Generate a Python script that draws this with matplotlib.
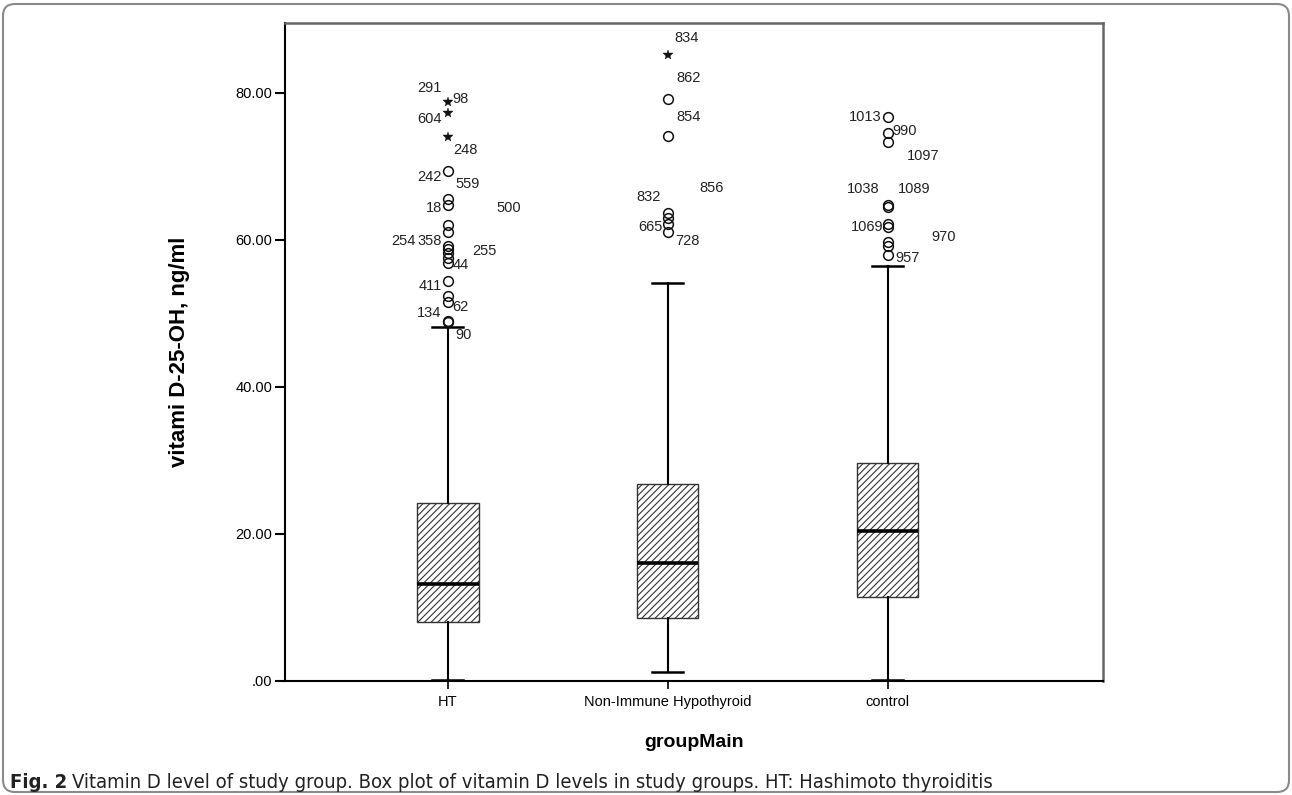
import numpy as np
import matplotlib
matplotlib.use("Agg")
import matplotlib.pyplot as plt
from matplotlib.patches import FancyBboxPatch
from matplotlib.transforms import IdentityTransform

plt.rcParams['font.family'] = ['Liberation Sans', 'DejaVu Sans']
plt.rcParams['hatch.linewidth'] = 0.8

groups = ['HT', 'Non-Immune Hypothyroid', 'control']

# box statistics
q1 = [8.0, 8.6, 11.4]
median = [13.2, 16.0, 20.4]
q3 = [24.2, 26.8, 29.6]
whisker_low = [0.2, 1.2, 0.2]
whisker_high = [48.1, 54.1, 56.5]

# outliers: value, marker kind ('o' circle, '*' extreme)
ht_out = [78.8, 77.3, 74.0, 69.4, 65.6, 64.8, 62.0, 61.1, 59.2, 58.7, 58.2,
          57.6, 56.9, 54.4, 52.4, 51.5, 49.0, 48.8]
ht_kind = ['*', '*', '*', 'o', 'o', 'o', 'o', 'o', 'o', 'o', 'o',
           'o', 'o', 'o', 'o', 'o', 'o', 'o']
nih_out = [85.2, 79.1, 74.1, 63.7, 63.0, 62.1, 61.1]
nih_kind = ['*', 'o', 'o', 'o', 'o', 'o', 'o']
ctl_out = [76.7, 74.5, 73.3, 64.8, 64.5, 62.2, 61.8, 59.7, 59.2, 58.0]
ctl_kind = ['o'] * 10

# case labels: (group index, anchor value, text)
case_labels = [
    (0, 78.8, '291'), (0, 78.8, '98'), (0, 77.3, '604'), (0, 74.0, '248'),
    (0, 69.4, '242'), (0, 69.4, '559'), (0, 64.8, '18'), (0, 65.6, '500'),
    (0, 59.2, '358'), (0, 58.7, '254'), (0, 58.2, '255'), (0, 56.9, '44'),
    (0, 54.4, '411'), (0, 52.4, '134'), (0, 51.5, '62'), (0, 48.9, '90'),
    (1, 85.2, '834'), (1, 79.1, '862'), (1, 74.1, '854'), (1, 63.7, '832'),
    (1, 63.7, '856'), (1, 61.6, '665'), (1, 61.1, '728'),
    (2, 76.7, '1013'), (2, 74.5, '990'), (2, 73.3, '1097'), (2, 64.6, '1038'),
    (2, 64.6, '1089'), (2, 62.2, '1069'), (2, 59.7, '970'), (2, 58.0, '957'),
]
# label offsets in pixels and alignment
label_offsets = [
    (-6, 14, 'right'), (5, 3, 'left'), (-6, -6, 'right'), (6, -13, 'left'),
    (-6, -6, 'right'), (8, -13, 'left'), (-6, -3, 'right'), (49, -9, 'left'),
    (-6, 5, 'right'), (-32, 8, 'right'), (25, 2, 'left'), (5, -2, 'left'),
    (-6, -5, 'right'), (-6, -17, 'right'), (5, -5, 'left'), (8, -14, 'left'),
    (7, 17, 'left'), (9, 21, 'left'), (9, 19, 'left'), (-7, 16, 'right'),
    (32, 25, 'left'), (-5, 1, 'right'), (8, -9, 'left'),
    (-6, 0, 'right'), (5, 2, 'left'), (19, -14, 'left'), (-8, 17, 'right'),
    (10, 17, 'left'), (-4, -3, 'right'), (44, 5, 'left'), (8, -3, 'left'),
]

yticks = [0, 20, 40, 60, 80]
ytick_labels = ['.00', '20.00', '40.00', '60.00', '80.00']

fig = plt.figure(figsize=(12.92, 7.95), dpi=100)
ax = fig.add_axes([285 / 1292, 1 - 681 / 795, 818 / 1292, 658 / 795])

stats = []
for i in range(3):
    stats.append(dict(med=median[i], q1=q1[i], q3=q3[i],
                      whislo=whisker_low[i], whishi=whisker_high[i], fliers=[]))

bp = ax.bxp(stats, positions=[1, 2, 3], widths=0.28, capwidths=0.14,
            showfliers=False, patch_artist=True,
            boxprops=dict(facecolor='white', edgecolor='#333333', linewidth=1.0, hatch='/////'),
            medianprops=dict(color='black', linewidth=2.6),
            whiskerprops=dict(color='black', linewidth=1.5),
            capprops=dict(color='black', linewidth=1.8))

for pos, vals, kinds in [(1, ht_out, ht_kind), (2, nih_out, nih_kind), (3, ctl_out, ctl_kind)]:
    vals = np.array(vals)
    kinds = np.array(kinds)
    circ = vals[kinds == 'o']
    star = vals[kinds == '*']
    ax.plot([pos] * len(circ), circ, 'o', markersize=7, markerfacecolor='none',
            markeredgecolor='#111111', markeredgewidth=1.1, clip_on=False)
    ax.plot([pos] * len(star), star, '*', markersize=7, color='#111111',
            markeredgewidth=0.3, clip_on=False)

for (g, v, txt), (dx, dy, ha) in zip(case_labels, label_offsets):
    ax.annotate(txt, (g + 1, v), xytext=(dx, dy), textcoords='offset pixels',
                ha=ha, va='center', fontsize=10.5, color='#222222')

ax.set_xlim(0.26, 3.98)
ax.set_ylim(0, 89.5)
ax.set_yticks(yticks)
ax.set_yticklabels(ytick_labels, fontsize=10.5)
ax.set_xticks([1, 2, 3])
ax.set_xticklabels(groups, fontsize=10.5)
ax.tick_params(axis='y', length=7, width=1.5, pad=2)
ax.tick_params(axis='x', length=6, width=1.2, pad=4)

for side in ['left', 'bottom']:
    ax.spines[side].set_color('black')
    ax.spines[side].set_linewidth(1.5)
for side in ['top', 'right']:
    ax.spines[side].set_color('#666666')
    ax.spines[side].set_linewidth(1.8)

ax.set_ylabel('vitami D-25-OH, ng/ml', fontsize=16, fontweight='bold')
ax.yaxis.set_label_coords(-0.116, 0.5)
ax.set_xlabel('groupMain', fontsize=14, fontweight='bold')
ax.xaxis.set_label_coords(0.5, -0.08)

# outer rounded frame
frame = FancyBboxPatch((3, 3), 1286, 788, boxstyle='round,pad=0,rounding_size=12',
                       transform=IdentityTransform(), fill=False,
                       edgecolor='#8a8a8a', linewidth=1.5)
fig.patches.append(frame)

cap_font = dict(family=['DejaVu Sans'], fontstretch='condensed', fontsize=14.5)
t1 = fig.text(10 / 1292, 1 - 783 / 795, 'Fig. 2', fontweight='bold', va='center',
              color='#222222', **cap_font)
fig.canvas.draw()
bb = t1.get_window_extent(fig.canvas.get_renderer())
fig.text((bb.x1 + 5) / 1292, 1 - 783 / 795,
         'Vitamin D level of study group. Box plot of vitamin D levels in study groups. HT: Hashimoto thyroiditis',
         va='center', color='#222222', **cap_font)

fig.savefig('out.png', dpi=100)
